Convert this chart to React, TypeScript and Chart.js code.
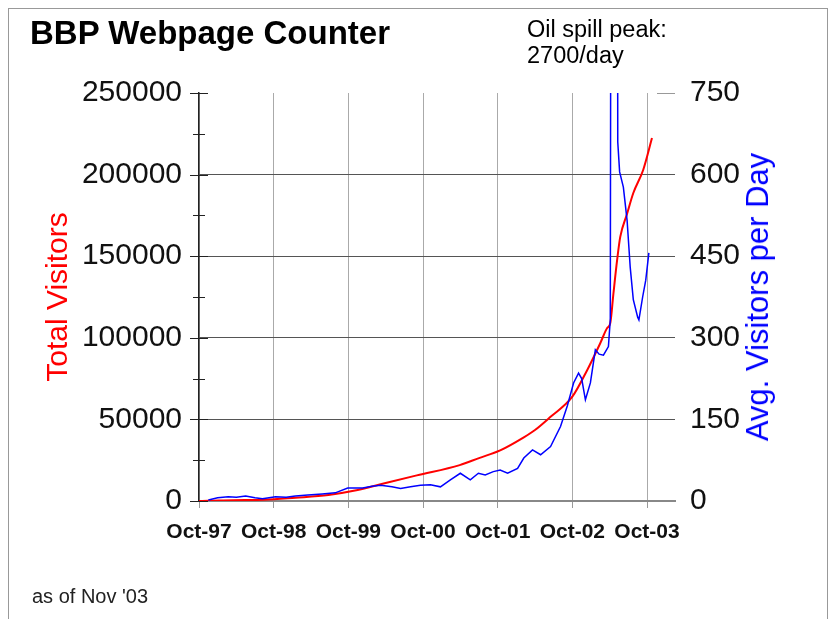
import React, { useEffect, useRef } from 'react';
import { Chart, registerables } from 'chart.js';

Chart.register(...registerables);

// x values are months counted from Oct-97
const xTickMonths = [0, 12, 24, 36, 48, 60, 72];
const xTickLabels = ['Oct-97', 'Oct-98', 'Oct-99', 'Oct-00', 'Oct-01', 'Oct-02', 'Oct-03'];

const totalMonths = [0, 1.5, 5.5, 10.5, 15.5, 20.8, 25.5, 30, 35, 41.9, 45, 48.4, 52.2, 54, 56.5, 60, 62.4, 64.5, 65.6, 66.1, 66.6, 67.2, 67.7, 68.8, 69.8, 71.4, 72.8];
const totalVisitors = [0, 100, 500, 700, 2000, 3700, 6700, 11000, 15700, 22000, 26300, 31000, 39000, 43500, 51600, 63900, 80300, 96800, 106000, 109000, 127000, 147700, 161800, 176000, 188700, 203000, 222400];

const avgMonths = [1.5, 3, 4.7, 6, 7.5, 9, 10.2, 12.3, 14, 15.5, 17.5, 19.8, 21.9, 23.9, 26.3, 27.8, 29.2, 31, 32.4, 34, 35.6, 37.2, 38.8, 40.4, 42.0, 43.6, 44.9, 46, 47.3, 48.4, 49.6, 51.2, 52.2, 53.6, 54.9, 56.5, 58.1, 59.2, 60.2, 61.0, 61.5, 62.1, 62.9, 63.7, 64.3, 65.0, 65.8, 66.1, 66.4, 67.1, 67.3, 67.6, 68.2, 68.8, 69.3, 69.8, 70.5, 70.7, 71.3, 71.8, 72.3];
const avgPerDay = [2, 6, 8, 7, 9, 6, 4, 8, 7, 9, 11, 13, 15, 24, 24, 27, 29, 26, 23, 26, 29, 30, 26, 39, 51, 39, 51, 48, 54, 57, 51, 60, 79, 94, 85, 100, 137, 175, 217, 235, 225, 186, 217, 278, 270, 268, 284, 333, 2700, 2700, 660, 605, 577, 516, 430, 370, 338, 333, 375, 406, 456];

const leftMax = 250000;
const leftStep = 50000;
const leftMinorStep = 25000;
const rightMax = 750;
const rightStep = 150;

const FONT = '"Liberation Sans", Arial, Helvetica, sans-serif';

const axisTicksPlugin = {
  id: 'axisTicks',
  afterDraw(chart: any) {
    const s = chart.scales.y;
    const ctx = chart.ctx;
    const x = s.right;
    ctx.save();
    ctx.strokeStyle = '#222';
    ctx.lineWidth = 1;
    for (let v = 0; v <= leftMax; v += leftMinorStep) {
      const y = Math.round(s.getPixelForValue(v)) + 0.5;
      const len = v % leftStep === 0 ? 9 : 6;
      ctx.beginPath();
      ctx.moveTo(x - len, y);
      ctx.lineTo(x + len, y);
      ctx.stroke();
    }
    const area = chart.chartArea;
    ctx.strokeStyle = '#999';
    ctx.beginPath();
    ctx.moveTo(area.right - 18, Math.round(area.top) + 0.5);
    ctx.lineTo(area.right, Math.round(area.top) + 0.5);
    ctx.stroke();
    ctx.restore();
  },
};

export default function App() {
  const ref = useRef<HTMLCanvasElement>(null);

  useEffect(() => {
    Chart.defaults.font.family = FONT;
    const canvas = ref.current!;
    const chart = new Chart(canvas, {
      type: 'line',
      data: {
        datasets: [
          {
            label: 'Avg. Visitors per Day',
            data: avgMonths.map((m, i) => ({ x: m, y: avgPerDay[i] })),
            yAxisID: 'y1',
            borderColor: '#0000ff',
            borderWidth: 1.5,
            pointRadius: 0,
            tension: 0,
            fill: false,
          },
          {
            label: 'Total Visitors',
            data: totalMonths.map((m, i) => ({ x: m, y: totalVisitors[i] })),
            yAxisID: 'y',
            borderColor: '#ff0000',
            borderWidth: 2,
            pointRadius: 0,
            cubicInterpolationMode: 'monotone',
            fill: false,
          },
        ],
      },
      options: {
        responsive: false,
        animation: false,
        devicePixelRatio: 1,
        layout: { padding: { top: 93, left: 0, right: 0, bottom: 0 } },
        plugins: { legend: { display: false }, tooltip: { enabled: false } },
        scales: {
          x: {
            type: 'linear',
            min: 0,
            max: 76.5,
            afterBuildTicks: (s: any) => {
              s.ticks = xTickMonths.map((v) => ({ value: v }));
            },
            ticks: {
              callback: (v: any) => {
                const i = xTickMonths.indexOf(Number(v));
                return i >= 0 ? xTickLabels[i] : '';
              },
              font: { size: 21, weight: 'bold' },
              color: '#111',
              padding: 12,
              maxRotation: 0,
              autoSkip: false,
            },
            grid: { color: '#aaa', tickColor: '#999', tickLength: 7, lineWidth: 1 },
            border: { color: '#888', width: 2 },
            afterFit: (s: any) => {
              s.height = 118;
            },
          },
          y: {
            position: 'left',
            min: 0,
            max: leftMax,
            ticks: {
              stepSize: leftStep,
              font: { size: 30 },
              color: '#111',
              padding: 17,
              callback: (v: any) => String(v),
            },
            grid: {
              drawTicks: false,
              color: (c: any) =>
                c.tick && c.tick.value === leftMax ? 'rgba(0,0,0,0)' : c.tick && c.tick.value === 0 ? '#888' : '#555',
              lineWidth: (c: any) => (c.tick && c.tick.value === 0 ? 2 : 1),
            },
            border: { color: '#222', width: 1.5 },
            title: {
              display: true,
              text: 'Total Visitors',
              color: '#ff0000',
              font: { size: 30 },
              padding: { top: 41, bottom: 0 },
            },
            afterFit: (s: any) => {
              s.width = 199;
            },
          },
          y1: {
            position: 'right',
            min: 0,
            max: rightMax,
            ticks: {
              stepSize: rightStep,
              font: { size: 30 },
              color: '#111',
              padding: 7,
              callback: (v: any) => String(v),
            },
            grid: { display: false },
            border: { display: false },
            afterFit: (s: any) => {
              s.width = 153;
            },
          },
        },
      },
      plugins: [axisTicksPlugin],
    } as any);
    return () => chart.destroy();
  }, []);

  return (
    <div style={{ position: 'absolute', left: 0, top: 0, width: 828, height: 619, background: '#fff', overflow: 'hidden', fontFamily: FONT }}>
      <div style={{ position: 'absolute', left: 8, top: 8, width: 818, height: 700, borderLeft: '1px solid #999', borderTop: '1px solid #999', borderRight: '1px solid #999' }} />
      <canvas ref={ref} width={828} height={619} style={{ position: 'absolute', left: 0, top: 0, width: 828, height: 619, display: 'block' }} />
      <div style={{ position: 'absolute', left: 30, top: 18, fontSize: 33, fontWeight: 'bold', lineHeight: '30px', color: '#000', whiteSpace: 'nowrap' }}>BBP Webpage Counter</div>
      <div style={{ position: 'absolute', left: 527, top: 16, fontSize: 23.5, lineHeight: '26px', color: '#000', whiteSpace: 'nowrap' }}>
        Oil spill peak:<br />2700/day
      </div>
      <div style={{ position: 'absolute', left: 758, top: 297, transform: 'translate(-50%, -50%) rotate(-90deg)', fontSize: 31, lineHeight: '30px', color: '#0000ff', whiteSpace: 'nowrap' }}>Avg. Visitors per Day</div>
      <div style={{ position: 'absolute', left: 32, top: 586, fontSize: 20, lineHeight: '20px', color: '#222', whiteSpace: 'nowrap' }}>as of Nov '03</div>
    </div>
  );
}
